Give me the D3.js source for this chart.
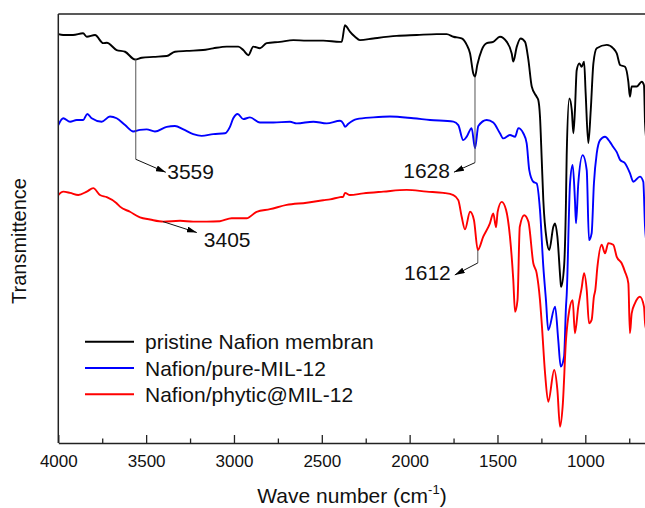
<!DOCTYPE html>
<html>
<head>
<meta charset="utf-8">
<script src="https://cdn.jsdelivr.net/npm/d3@7/dist/d3.min.js"></script>
<style>
  html, body { margin: 0; padding: 0; background: #fff; }
  svg { display: block; font-family: "Liberation Sans", Arial, sans-serif; }
</style>
</head>
<body>
<svg id="chart" width="645" height="508"></svg>
<script>
// FTIR spectra: [wavenumber (cm-1), transmittance (a.u.)]
const pristineNafion = [
  [4000,95.3],[3972,95.1],[3916,95.1],[3859,95.5],[3838,94.7],[3791,95.1],[3744,93.2],[3724,93.3],
  [3668,91.6],[3620,91.2],[3563,89.4],[3525,89.8],[3459,90.0],[3383,90.2],[3336,91.2],[3269,91.4],
  [3176,91.6],[3119,92.0],[3041,92.4],[2975,92.4],[2947,91.6],[2918,90.4],[2890,92.4],[2852,92.0],
  [2814,93.2],[2738,93.5],[2662,93.9],[2586,93.8],[2492,93.8],[2396,93.5],[2387,93.5],[2368,97.4],
  [2358,97.0],[2340,95.9],[2311,94.7],[2283,93.9],[2207,94.3],[2074,94.9],[1960,95.1],[1846,95.3],
  [1789,95.3],[1751,94.7],[1704,94.3],[1675,92.8],[1656,90.8],[1638,86.2],[1628,85.4],[1615,88.1],
  [1590,91.6],[1561,93.2],[1524,93.5],[1486,94.7],[1447,93.5],[1419,90.8],[1410,88.9],[1390,92.4],
  [1368,94.3],[1343,93.5],[1324,89.3],[1305,83.1],[1277,80.7],[1268,80.0],[1258,76.1],[1248,66.0],
  [1239,56.6],[1220,47.3],[1205,45.0],[1182,50.4],[1172,51.2],[1159,48.1],[1140,37.2],[1138,36.4],
  [1121,41.1],[1110,56.6],[1106,67.1],[1091,80.3],[1077,77.6],[1068,72.2],[1059,77.6],[1049,86.9],
  [1034,88.5],[1021,87.7],[1007,88.9],[998,81.5],[983,69.9],[969,77.6],[954,88.5],[935,92.0],
  [878,92.8],[841,92.0],[821,90.8],[802,88.1],[774,87.7],[755,84.2],[746,80.7],[736,83.1],
  [707,83.1],[679,84.2],[666,83.4],[660,74.6],[650,70.0]
];

const pureMIL12 = [
  [4000,74.1],[3972,75.7],[3933,74.9],[3895,75.3],[3858,75.3],[3835,76.7],[3810,75.7],[3753,74.9],
  [3706,76.1],[3668,75.7],[3620,74.1],[3573,72.6],[3535,73.0],[3497,73.1],[3450,72.6],[3383,73.7],
  [3336,73.9],[3288,73.1],[3232,72.0],[3184,71.6],[3118,72.0],[3051,72.2],[3023,73.7],[3004,75.7],
  [2979,76.7],[2947,75.5],[2909,75.9],[2852,74.7],[2776,74.7],[2681,74.9],[2643,74.5],[2548,74.9],
  [2472,74.5],[2396,75.1],[2378,74.5],[2368,73.7],[2349,74.4],[2301,75.5],[2207,75.9],[2112,76.1],
  [1979,75.7],[1884,75.3],[1751,74.9],[1723,74.1],[1695,70.6],[1675,71.4],[1647,73.4],[1628,68.7],
  [1609,73.9],[1561,75.3],[1524,74.7],[1486,72.2],[1467,71.0],[1429,71.8],[1400,71.4],[1381,73.4],
  [1353,72.2],[1334,69.9],[1319,63.6],[1296,60.9],[1277,60.5],[1258,54.3],[1239,41.1],[1224,33.3],
  [1211,26.3],[1172,31.8],[1154,24.0],[1140,17.8],[1121,20.1],[1110,31.8],[1106,34.5],[1087,60.5],
  [1072,64.8],[1059,56.6],[1053,51.2],[1040,60.5],[1015,67.1],[992,63.6],[979,47.3],[964,48.9],
  [951,60.5],[935,67.5],[916,70.6],[888,71.4],[860,70.2],[841,69.0],[821,67.8],[802,66.0],
  [774,65.2],[746,62.9],[727,60.9],[689,62.1],[670,60.9],[660,50.4],[650,46.0]
];

const phyticMIL12 = [
  [4000,57.8],[3972,58.6],[3933,58.3],[3886,57.8],[3838,58.6],[3801,59.4],[3763,57.8],[3724,57.3],
  [3668,55.9],[3649,55.1],[3592,53.9],[3535,52.6],[3478,52.1],[3402,51.6],[3307,51.8],[3232,51.6],
  [3155,51.6],[3080,51.7],[3013,52.4],[2928,52.4],[2871,53.9],[2795,54.5],[2700,55.5],[2586,56.0],
  [2492,56.6],[2453,56.8],[2396,57.3],[2378,57.4],[2368,58.3],[2340,57.8],[2264,58.2],[2150,58.6],
  [2017,59.0],[1903,58.6],[1808,58.3],[1751,57.8],[1723,56.6],[1704,52.8],[1685,49.8],[1656,53.9],
  [1634,52.0],[1612,45.0],[1581,48.1],[1543,51.2],[1524,53.5],[1508,50.3],[1499,53.9],[1476,56.2],
  [1451,54.3],[1429,48.1],[1410,38.0],[1400,30.6],[1386,33.3],[1373,50.4],[1348,53.1],[1324,51.6],
  [1296,41.9],[1277,39.6],[1258,33.3],[1248,27.9],[1229,16.2],[1211,9.6],[1177,17.0],[1159,12.4],
  [1144,3.8],[1129,8.5],[1110,24.0],[1091,31.0],[1072,33.3],[1059,25.6],[1040,31.8],[1021,36.1],
  [1007,39.6],[992,35.7],[979,27.9],[964,28.7],[951,34.1],[943,35.7],[931,41.1],[907,46.2],
  [888,44.2],[869,46.6],[841,46.2],[821,43.4],[793,41.9],[774,39.9],[755,37.2],[746,25.6],
  [736,30.2],[717,32.6],[689,34.1],[666,31.8],[660,28.0],[650,26.0]
];

const seriesNames = ["pristine Nafion membran", "Nafion/pure-MIL-12", "Nafion/phytic@MIL-12"];
const seriesColors = ["#000000", "#0000ff", "#ff0000"];
const seriesData = [pristineNafion, pureMIL12, phyticMIL12];

const majorTicks = [4000, 3500, 3000, 2500, 2000, 1500, 1000];
const minorTicks = [3750, 3250, 2750, 2250, 1750, 1250, 750];

// Peak annotations: wavenumber, series index, label, leader geometry
const peakLabels = [
  { wave: 3559, series: 0, label: "3559", drop: 100, tip: [30, 13], side: "right" },
  { wave: 1628, series: 0, label: "1628", drop: 86, tip: [-21, 9.5], side: "left" },
  { wave: 3405, series: 2, label: "3405", drop: 0, tip: [34, 11], side: "right2" },
  { wave: 1612, series: 2, label: "1612", drop: 13, tip: [-23, 12], side: "left" }
];

const svg = d3.select("#chart");
const margin = { left: 58.3, top: 14, bottom: 443 };

const x = d3.scaleLinear().domain([4000, 400]).range([margin.left, margin.left + 3600 * 0.17567]);
const y = d3.scaleLinear().domain([0, 100]).range([margin.bottom, margin.top]);

svg.append("defs").append("clipPath").attr("id", "plotClip")
  .append("rect")
  .attr("x", margin.left).attr("y", margin.top)
  .attr("width", 700).attr("height", margin.bottom - margin.top);

svg.select("defs").append("marker")
  .attr("id", "arrowHead")
  .attr("viewBox", "0 0 10 6")
  .attr("refX", 10).attr("refY", 3)
  .attr("markerWidth", 10).attr("markerHeight", 6)
  .attr("markerUnits", "userSpaceOnUse")
  .attr("orient", "auto")
  .append("path").attr("d", "M0,0 L10,3 L0,6 Z").attr("fill", "#000");

// spectra
const line = d3.line()
  .x(d => x(d[0]))
  .y(d => y(d[1]))
  .curve(d3.curveMonotoneX);

const plot = svg.append("g").attr("clip-path", "url(#plotClip)");
seriesData.forEach((data, i) => {
  plot.append("path")
    .datum(data)
    .attr("fill", "none")
    .attr("stroke", seriesColors[i])
    .attr("stroke-width", 1.9)
    .attr("stroke-linejoin", "round")
    .attr("d", line);
});

// frame (top and left spines)
svg.append("line")
  .attr("x1", margin.left).attr("x2", 700)
  .attr("y1", margin.top).attr("y2", margin.top)
  .attr("stroke", "#222").attr("stroke-width", 1.5);
svg.append("line")
  .attr("x1", margin.left).attr("x2", margin.left)
  .attr("y1", margin.top).attr("y2", margin.bottom)
  .attr("stroke", "#222").attr("stroke-width", 1.5);

// bottom axis
const xAxis = d3.axisBottom(x).tickValues(majorTicks).tickFormat(d3.format("d"))
  .tickSize(-8).tickSizeOuter(0).tickPadding(11.6);
const gx = svg.append("g").attr("transform", `translate(0,${margin.bottom})`).call(xAxis);
gx.select(".domain").attr("stroke", "#222").attr("stroke-width", 1.5);
gx.selectAll(".tick line").attr("stroke", "#222").attr("stroke-width", 1.3);
gx.selectAll(".tick text")
  .attr("font-size", 17)
  .attr("fill", "#111")
  .attr("font-family", "Liberation Sans, Arial, sans-serif");

const xMinor = d3.axisBottom(x).tickValues(minorTicks).tickSize(-4.5).tickSizeOuter(0).tickFormat("");
const gm = svg.append("g").attr("transform", `translate(0,${margin.bottom})`).call(xMinor);
gm.select(".domain").remove();
gm.selectAll(".tick line").attr("stroke", "#222").attr("stroke-width", 1.3);

// axis titles
const xTitle = svg.append("text")
  .attr("x", 352).attr("y", 503)
  .attr("text-anchor", "middle")
  .attr("font-size", 21)
  .attr("fill", "#111");
xTitle.append("tspan").text("Wave number (cm");
xTitle.append("tspan").attr("font-size", 13).attr("dy", -9).text("-1");
xTitle.append("tspan").attr("dy", 9).text(")");

svg.append("text")
  .attr("transform", "translate(26,241) rotate(-90)")
  .attr("text-anchor", "middle")
  .attr("font-size", 20)
  .attr("fill", "#111")
  .text("Transmittence");

// legend
const legend = svg.append("g");
seriesNames.forEach((name, i) => {
  const ly = 341.7 + i * 26.3;
  legend.append("line")
    .attr("x1", 85).attr("x2", 134)
    .attr("y1", ly).attr("y2", ly)
    .attr("stroke", seriesColors[i]).attr("stroke-width", 1.9);
  legend.append("text")
    .attr("x", 145).attr("y", ly + 7.5)
    .attr("font-size", 21)
    .attr("fill", "#111")
    .text(name);
});

// peak annotations with leader lines and arrows
function valueAt(data, w) {
  for (let k = 0; k < data.length - 1; k++) {
    const a = data[k], b = data[k + 1];
    if (w <= a[0] && w >= b[0]) {
      const t = (a[0] - w) / (a[0] - b[0]);
      return a[1] + t * (b[1] - a[1]);
    }
  }
  return data[data.length - 1][1];
}

const ann = svg.append("g");
peakLabels.forEach(p => {
  const px = x(p.wave);
  const py = y(valueAt(seriesData[p.series], p.wave));
  const ey = py + p.drop;
  const tx = px + p.tip[0], ty = ey + p.tip[1];
  if (p.drop > 0) {
    ann.append("line")
      .attr("x1", px).attr("x2", px).attr("y1", py).attr("y2", ey)
      .attr("stroke", "#555").attr("stroke-width", 1);
  }
  ann.append("line")
    .attr("x1", px).attr("y1", ey).attr("x2", tx).attr("y2", ty)
    .attr("stroke", "#111").attr("stroke-width", 1)
    .attr("marker-end", "url(#arrowHead)");
  const t = ann.append("text")
    .attr("font-size", 21)
    .attr("fill", "#111")
    .text(p.label);
  if (p.side === "right") {
    t.attr("x", tx + 1.5).attr("y", ty + 6.5).attr("text-anchor", "start");
  } else if (p.side === "right2") {
    t.attr("x", tx + 7).attr("y", ty + 14.6).attr("text-anchor", "start");
  } else {
    t.attr("x", tx - 4).attr("y", ty + 5.5).attr("text-anchor", "end");
  }
});
</script>
</body>
</html>
